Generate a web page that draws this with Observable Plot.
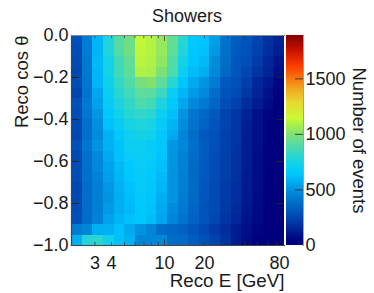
<!DOCTYPE html>
<html>
<head>
<meta charset="utf-8">
<style>
html,body{margin:0;padding:0;background:#fff;width:374px;height:293px;overflow:hidden}
#wrap{position:relative;width:374px;height:293px}
#wrap svg{position:absolute;top:0;background:transparent;overflow:visible}
</style>
<script src="https://cdn.jsdelivr.net/npm/d3@7"></script>
<script src="https://cdn.jsdelivr.net/npm/@observablehq/plot@0.6"></script>
</head>
<body>
<div id="wrap"></div>
<script>
const title = "Showers";
const xLabel = "Reco E [GeV]";
const yLabel = "Reco cos θ";
const zLabel = "Number of events";
const xDomain = [2, 80];
const yDomain = [-1, 0];
const zDomain = [0, 1890];
const xLabelled = [3, 4, 10, 20];
const xLabelledLast = [80];
const xMinor = [3, 4, 5, 6, 7, 8, 9, 20, 30, 40, 50, 60, 70];
const xMajor = [10];
const yTicks = [-1, -0.8, -0.6, -0.4, -0.2, 0];
const zTicks = [0, 500, 1000, 1500];
const paletteStops = [0, 30, 100, 180, 280, 380, 480, 560, 640, 740, 820, 910, 1000, 1140, 1280, 1400, 1600, 1750, 1890];
const paletteColors = ["#00007f","#00007f","#00148c","#0032a0","#0050b9","#006ec8","#008cdc","#00aaf0","#00c8ff","#14d2e6","#32d7c8","#5adca0","#82e16e","#c8fa32","#e8d830","#f0a820","#ff4000","#c81000","#800000"];
// rows from cos θ = 0 down to cos θ = -1; columns from low to high energy
const events = [
[280,430,590,770,900,960,1130,1100,1040,930,790,650,630,530,400,320,290,240,180,140],
[270,430,590,770,890,960,1120,1100,1040,920,770,640,620,510,390,310,280,230,170,130],
[260,420,600,740,860,930,1110,1090,1030,890,740,630,600,480,380,300,270,210,150,100],
[250,420,590,740,850,920,1090,1080,990,880,700,610,570,470,360,300,250,190,140,80],
[270,410,590,710,820,890,970,1000,920,790,640,560,500,430,310,280,220,150,110,50],
[240,400,550,690,790,850,920,910,840,680,590,520,470,380,290,260,200,140,90,40],
[280,420,540,670,760,820,880,860,760,650,550,470,420,350,270,230,170,120,70,30],
[270,410,510,640,720,790,820,800,700,620,500,410,360,310,240,190,140,85,45,20],
[260,390,490,620,680,750,770,750,670,590,480,400,340,290,240,190,130,85,40,15],
[250,390,480,580,650,710,740,720,650,560,460,380,310,280,230,190,125,85,35,15],
[280,410,500,580,620,700,700,670,640,510,470,390,320,280,230,190,125,85,35,15],
[260,390,470,560,620,680,690,680,630,500,450,380,320,270,220,180,125,75,35,15],
[270,390,470,540,600,650,680,660,620,500,450,370,310,270,220,180,125,75,35,10],
[270,390,450,530,590,640,670,650,600,500,440,370,310,270,220,180,115,75,30,10],
[250,380,440,510,580,620,670,640,590,500,440,370,300,260,210,170,115,75,30,10],
[260,380,440,500,570,610,650,630,570,500,430,360,300,260,210,170,115,70,30,10],
[270,380,440,520,570,600,640,620,560,480,420,350,290,260,200,160,105,65,25,10],
[280,380,450,540,590,620,640,610,550,460,400,340,290,250,190,150,95,60,25,5],
[430,460,570,580,620,560,500,460,380,360,340,300,260,210,170,120,80,45,15,5],
[570,780,800,720,620,580,460,460,470,380,370,320,280,240,180,120,70,35,15,5]
];
const xEdges = d3.range(21).map(i => xDomain[0] * Math.pow(xDomain[1] / xDomain[0], i / 20));
const yEdges = d3.range(21).map(i => yDomain[1] + (yDomain[0] - yDomain[1]) * i / 20);
const cells = events.flatMap((row, r) => row.map((v, c) => ({
  x1: xEdges[c], x2: xEdges[c + 1], y1: yEdges[r], y2: yEdges[r + 1], v
})));
const color = {type: "linear", domain: paletteStops, range: paletteColors, interpolate: "rgb", clamp: true};
const font = "'Liberation Sans', Arial, sans-serif";
const ink = "#1a1a1a";

const main = Plot.plot({
  width: 374, height: 293,
  marginLeft: 71, marginRight: 90, marginTop: 35, marginBottom: 48,
  style: {fontFamily: font, fontSize: "18px", color: ink, background: "transparent"},
  x: {type: "log", domain: xDomain, axis: null},
  y: {domain: yDomain, axis: null},
  color,
  marks: [
    Plot.rect(cells, {x1: "x1", x2: "x2", y1: "y1", y2: "y2", fill: d => d.v, shapeRendering: "crispEdges"}),
    Plot.ruleX(xMinor, {y1: -1, y2: -0.985, stroke: "#333", strokeWidth: 0.8}),
    Plot.ruleX(xMinor, {y1: 0, y2: -0.015, stroke: "#333", strokeWidth: 0.8}),
    Plot.ruleX(xMajor, {y1: -1, y2: -0.972, stroke: "#333", strokeWidth: 0.8}),
    Plot.ruleX(xMajor, {y1: 0, y2: -0.028, stroke: "#333", strokeWidth: 0.8}),
    Plot.tickY(yTicks, {y: d => d, stroke: "#222", strokeWidth: 0.9, insetRight: 205}),
    Plot.tickY(yTicks, {y: d => d, stroke: "#222", strokeWidth: 0.9, insetLeft: 205}),
    Plot.frame({anchor: "left", stroke: "#444", strokeWidth: 1.2}),
    Plot.frame({anchor: "bottom", stroke: "#444", strokeWidth: 1.2}),
    Plot.frame({anchor: "top", stroke: "#888", strokeWidth: 1.2}),
    Plot.text(yTicks, {y: d => d, text: d => d3.format(".1f")(d).replace("-", "−"), frameAnchor: "left", textAnchor: "end", dx: -3, fontSize: 18, fill: ink}),
    Plot.text(xLabelled, {x: d => d, text: d => String(d), frameAnchor: "bottom", lineAnchor: "top", dy: 11, fontSize: 18, fill: ink}),
    Plot.text(xLabelledLast, {x: d => d, text: d => String(d), frameAnchor: "bottom", lineAnchor: "top", dy: 11, dx: -5, fontSize: 18, fill: ink}),
    Plot.text([title], {frameAnchor: "top", lineAnchor: "bottom", dy: -14, dx: 9, fontSize: 18, fill: ink}),
    Plot.text([xLabel], {frameAnchor: "bottom-right", textAnchor: "end", lineAnchor: "top", dy: 28, fontSize: 18.8, fill: ink}),
    Plot.text([yLabel], {frameAnchor: "top-left", rotate: -90, textAnchor: "end", dx: -57, fontSize: 18.5, fill: ink})
  ]
});
main.style.left = "0px";

const zLevels = d3.range(0, 1890, 6);
const bar = Plot.plot({
  width: 89, height: 293,
  marginLeft: 1, marginRight: 71, marginTop: 35, marginBottom: 48,
  style: {fontFamily: font, fontSize: "18px", color: ink, background: "transparent"},
  x: {domain: [0, 1], axis: null},
  y: {domain: zDomain, axis: null},
  color,
  marks: [
    Plot.rect(zLevels, {x1: 0, x2: 1, y1: d => d, y2: d => d + 6, fill: d => d, shapeRendering: "crispEdges"}),
    Plot.tickY(zTicks.slice(1), {y: d => d, stroke: "#333", strokeWidth: 0.9, insetLeft: 9}),
    Plot.frame({anchor: "right", stroke: "#888", strokeWidth: 0.8}),
    Plot.text(zTicks, {y: d => d, text: d => String(d), frameAnchor: "right", textAnchor: "start", dx: 2, fontSize: 18, fill: ink}),
    Plot.text([zLabel], {frameAnchor: "right", textAnchor: "middle", rotate: 90, dx: 55, fontSize: 18.5, fill: ink})
  ]
});
bar.style.left = "285px";

document.getElementById("wrap").append(main, bar);
</script>
</body>
</html>
